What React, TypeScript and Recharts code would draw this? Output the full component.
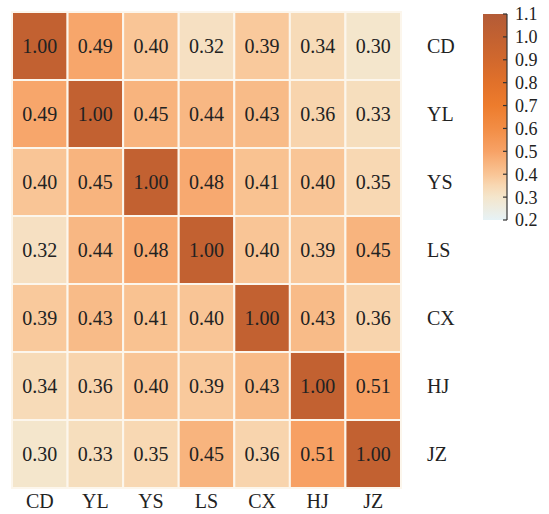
import { ScatterChart, Scatter, XAxis, YAxis, BarChart, Bar } from 'recharts'

const LABELS = ['CD', 'YL', 'YS', 'LS', 'CX', 'HJ', 'JZ']
const ROW_CD = [1.0, 0.49, 0.4, 0.32, 0.39, 0.34, 0.3]
const ROW_YL = [0.49, 1.0, 0.45, 0.44, 0.43, 0.36, 0.33]
const ROW_YS = [0.4, 0.45, 1.0, 0.48, 0.41, 0.4, 0.35]
const ROW_LS = [0.32, 0.44, 0.48, 1.0, 0.4, 0.39, 0.45]
const ROW_CX = [0.39, 0.43, 0.41, 0.4, 1.0, 0.43, 0.36]
const ROW_HJ = [0.34, 0.36, 0.4, 0.39, 0.43, 1.0, 0.51]
const ROW_JZ = [0.3, 0.33, 0.35, 0.45, 0.36, 0.51, 1.0]
const ROWS = [ROW_CD, ROW_YL, ROW_YS, ROW_LS, ROW_CX, ROW_HJ, ROW_JZ]
const BAR_TICKS = [0.2, 0.3, 0.4, 0.5, 0.6, 0.7, 0.8, 0.9, 1.0, 1.1]
const VMIN = 0.2
const VMAX = 1.1

// colormap stops (value, colour)
const STOPS: [number, string][] = [
  [0.2, '#e6f2f6'],
  [0.3, '#f4e6cc'],
  [0.35, '#f8d8b3'],
  [0.4, '#f9c596'],
  [0.45, '#f8b47e'],
  [0.5, '#f7a266'],
  [0.6, '#f28d45'],
  [0.7, '#ed7c2d'],
  [0.8, '#e1712a'],
  [0.9, '#d1682d'],
  [1.0, '#c26131'],
  [1.1, '#b35b37'],
]

const hex = (c: string) => [1, 3, 5].map((i) => parseInt(c.slice(i, i + 2), 16))
function colorFor(v: number) {
  for (let i = 0; i < STOPS.length - 1; i++) {
    const [a, ca] = STOPS[i]
    const [b, cb] = STOPS[i + 1]
    if (v <= b) {
      const t = Math.max(0, (v - a) / (b - a))
      const A = hex(ca), B = hex(cb)
      const m = A.map((x, k) => Math.round(x + (B[k] - x) * t))
      return `rgb(${m[0]},${m[1]},${m[2]})`
    }
  }
  return STOPS[STOPS.length - 1][1]
}

const W = 549
const H = 514
const M = { top: 12, right: 0, bottom: 0, left: 12 }
const Y_W = 148
const X_H = 26
const CELL_W = (W - M.left - Y_W) / LABELS.length
const CELL_H = (H - M.top - X_H) / LABELS.length
const FONT = 'Liberation Serif, Times New Roman, serif'

const points = ROWS.flatMap((row, r) => row.map((v, c) => ({ x: c, y: r, v })))

function CellShape(props: any) {
  const { cx, cy, payload } = props
  return (
    <g>
      <rect
        x={cx - CELL_W / 2}
        y={cy - CELL_H / 2}
        width={CELL_W}
        height={CELL_H}
        fill={colorFor(payload.v)}
        stroke="#fcf6ec"
        strokeWidth={2}
      />
      <text x={cx} y={cy} textAnchor="middle" dominantBaseline="central" style={{ fontFamily: FONT }} fontSize={20} fill="#222">
        {payload.v.toFixed(2)}
      </text>
    </g>
  )
}

function BarTick(props: any) {
  const { x, y, payload } = props
  return (
    <g>
      <line x1={x - 12} x2={x - 8} y1={y} y2={y} stroke="#333" strokeWidth={1.2} />
      <text x={x} y={y} dy="0.36em" textAnchor="start" style={{ fontFamily: FONT }} fontSize={18} fill="#222">
        {payload.value.toFixed(1)}
      </text>
    </g>
  )
}

const barData = [{ name: 'c', range: [VMIN, VMAX] }]

export default function App() {
  const tick = { fontSize: 20, fill: '#222', style: { fontFamily: FONT } }
  return (
    <div style={{ position: 'absolute', left: 0, top: 0, width: W, height: H, background: '#fff', fontFamily: FONT }}>
      <ScatterChart width={W} height={H} margin={M}>
        <XAxis
          type="number"
          dataKey="x"
          domain={[-0.5, 6.5]}
          ticks={[0, 1, 2, 3, 4, 5, 6]}
          tickFormatter={(i) => LABELS[i]}
          height={X_H}
          axisLine={false}
          tickLine={false}
          tickMargin={0}
          tick={tick}
          interval={0}
        />
        <YAxis
          type="number"
          dataKey="y"
          orientation="right"
          reversed
          domain={[-0.5, 6.5]}
          ticks={[0, 1, 2, 3, 4, 5, 6]}
          tickFormatter={(i) => LABELS[i]}
          width={Y_W}
          axisLine={false}
          tickLine={false}
          tickMargin={20}
          tick={tick}
          interval={0}
        />
        <Scatter data={points} shape={<CellShape />} isAnimationActive={false} />
      </ScatterChart>
      <div style={{ position: 'absolute', left: 483, top: 0 }}>
        <BarChart width={66} height={H} data={barData} margin={{ top: 14, right: 0, bottom: 294, left: 0 }} barCategoryGap={0}>
          <defs>
            <linearGradient id="cmap" x1="0" y1="1" x2="0" y2="0">
              {STOPS.map(([v, c]) => (
                <stop key={v} offset={(v - VMIN) / (VMAX - VMIN)} stopColor={c} />
              ))}
            </linearGradient>
          </defs>
          <XAxis dataKey="name" hide />
          <YAxis
            type="number"
            orientation="right"
            domain={[VMIN, VMAX]}
            ticks={BAR_TICKS}
            width={42}
            axisLine={{ stroke: '#333', strokeWidth: 1.2 }}
            tickLine={false}
            tickSize={0}
            tickMargin={8}
            tick={<BarTick />}
            interval={0}
          />
          <Bar dataKey="range" fill="url(#cmap)" isAnimationActive={false} />
        </BarChart>
      </div>
    </div>
  )
}
